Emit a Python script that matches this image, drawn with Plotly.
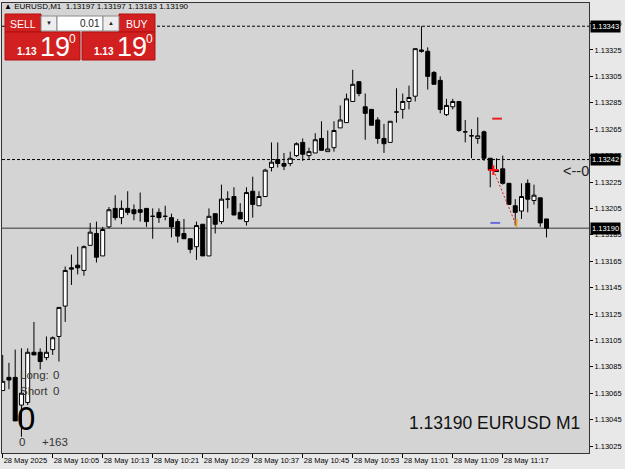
import plotly.graph_objects as go

# ---------------- data (EURUSD M1, 28 May 2025, 09:57 .. 11:24) ----------------
opens = [1.13067, 1.13077, 1.13077, 1.13056, 1.13058, 1.13096, 1.13096, 1.13092, 1.13098, 1.13108,
         1.13131, 1.13160, 1.13162, 1.13158, 1.13177, 1.13186, 1.13169, 1.13191, 1.13205, 1.13198,
         1.13205, 1.13204, 1.13204, 1.13205, 1.13199, 1.13202, 1.13199, 1.13198, 1.13195, 1.13186,
         1.13182, 1.13176, 1.13193, 1.13169, 1.13201, 1.13195, 1.13212, 1.13214, 1.13202, 1.13195,
         1.13218, 1.13207, 1.13214, 1.13236, 1.13242, 1.13239, 1.13239, 1.13245, 1.13255, 1.13245,
         1.13247, 1.13258, 1.13248, 1.13251, 1.13266, 1.13270, 1.13286, 1.13301, 1.13282, 1.13280,
         1.13272, 1.13258, 1.13255, 1.13278, 1.13280, 1.13286, 1.13290, 1.13325, 1.13324, 1.13308,
         1.13302, 1.13276, 1.13282, 1.13286, 1.13263, 1.13260, 1.13258, 1.13263, 1.13243, 1.13234,
         1.13235, 1.13224, 1.13207, 1.13203, 1.13224, 1.13211, 1.13213, 1.13197]
highs = [1.13094, 1.13088, 1.13098, 1.13099, 1.13099, 1.13119, 1.13099, 1.13108, 1.13108, 1.13130,
         1.13161, 1.13170, 1.13176, 1.13177, 1.13194, 1.13195, 1.13191, 1.13206, 1.13215, 1.13211,
         1.13218, 1.13208, 1.13217, 1.13205, 1.13205, 1.13205, 1.13207, 1.13201, 1.13197, 1.13197,
         1.13182, 1.13195, 1.13193, 1.13205, 1.13201, 1.13223, 1.13218, 1.13221, 1.13209, 1.13221,
         1.13229, 1.13218, 1.13235, 1.13255, 1.13255, 1.13247, 1.13248, 1.13255, 1.13258, 1.13251,
         1.13262, 1.13271, 1.13264, 1.13271, 1.13283, 1.13292, 1.13310, 1.13301, 1.13292, 1.13280,
         1.13274, 1.13269, 1.13271, 1.13296, 1.13292, 1.13298, 1.13326, 1.13343, 1.13327, 1.13309,
         1.13305, 1.13288, 1.13288, 1.13286, 1.13272, 1.13265, 1.13274, 1.13264, 1.13243, 1.13243,
         1.13245, 1.13224, 1.13212, 1.13224, 1.13227, 1.13223, 1.13213, 1.13197]
lows = [1.13067, 1.13068, 1.13044, 1.13032, 1.13056, 1.13094, 1.13083, 1.13090, 1.13094, 1.13089,
        1.13119, 1.13147, 1.13155, 1.13154, 1.13177, 1.13164, 1.13169, 1.13190, 1.13196, 1.13193,
        1.13200, 1.13196, 1.13195, 1.13191, 1.13182, 1.13194, 1.13196, 1.13183, 1.13179, 1.13182,
        1.13171, 1.13166, 1.13169, 1.13169, 1.13186, 1.13193, 1.13205, 1.13200, 1.13197, 1.13192,
        1.13198, 1.13207, 1.13214, 1.13233, 1.13236, 1.13234, 1.13237, 1.13244, 1.13241, 1.13242,
        1.13247, 1.13249, 1.13248, 1.13248, 1.13266, 1.13270, 1.13286, 1.13290, 1.13257, 1.13268,
        1.13254, 1.13247, 1.13255, 1.13270, 1.13273, 1.13280, 1.13286, 1.13323, 1.13295, 1.13299,
        1.13277, 1.13275, 1.13280, 1.13263, 1.13255, 1.13243, 1.13254, 1.13241, 1.13221, 1.13233,
        1.13223, 1.13208, 1.13192, 1.13197, 1.13202, 1.13208, 1.13191, 1.13183]
closes = [1.13074, 1.13075, 1.13044, 1.13065, 1.13096, 1.13094, 1.13089, 1.13096, 1.13107, 1.13130,
          1.13158, 1.13159, 1.13160, 1.13176, 1.13187, 1.13168, 1.13189, 1.13204, 1.13198, 1.13205,
          1.13202, 1.13201, 1.13202, 1.13195, 1.13199, 1.13198, 1.13199, 1.13191, 1.13184, 1.13182,
          1.13174, 1.13192, 1.13169, 1.13199, 1.13193, 1.13212, 1.13212, 1.13200, 1.13197, 1.13217,
          1.13208, 1.13214, 1.13234, 1.13240, 1.13239, 1.13237, 1.13243, 1.13254, 1.13246, 1.13248,
          1.13257, 1.13249, 1.13250, 1.13264, 1.13272, 1.13288, 1.13299, 1.13292, 1.13277, 1.13268,
          1.13258, 1.13254, 1.13271, 1.13278, 1.13286, 1.13289, 1.13326, 1.13324, 1.13305, 1.13299,
          1.13280, 1.13283, 1.13286, 1.13264, 1.13263, 1.13260, 1.13260, 1.13243, 1.13234, 1.13233,
          1.13224, 1.13208, 1.13202, 1.13214, 1.13212, 1.13215, 1.13194, 1.13190]
bars = list(range(len(opens)))

tick_bars = [0, 8, 16, 24, 32, 40, 48, 56, 64, 72, 80]
tick_labels = ["28 May 2025", "28 May 10:05", "28 May 10:13", "28 May 10:21", "28 May 10:29",
               "28 May 10:37", "28 May 10:45", "28 May 10:53", "28 May 11:01", "28 May 11:09",
               "28 May 11:17"]
price_ticks = [1.13025, 1.13045, 1.13065, 1.13085, 1.13105, 1.13125, 1.13145, 1.13165, 1.13185,
               1.13205, 1.13225, 1.13245, 1.13265, 1.13285, 1.13305, 1.13325, 1.13345]

day_high = 1.13343
level_mid = 1.13242
bid = 1.13190
symbol = "EURUSD"
timeframe = "M1"
lot = "0.01"

# trade markers
trade_x = [78.5, 82.0]
trade_y = [1.13234, 1.13194]
tp_mark = (79.1, 1.13273)
sl_mark = (78.8, 1.13194)
arrow_mark = (82.2, 1.13194)

# ---------------- geometry helpers (layout pixels -> paper) ----------------
W, H = 625, 469
ML, MR, MT, MB = 2, 36, 3, 16
PW, PH = W - ML - MR, H - MT - MB


def px(x):
    return (x - ML) / PW


def py(y):
    return (H - MB - y) / PH


FONT = "Liberation Sans"
RED = "#d21f1f"

fig = go.Figure()

fig.add_trace(go.Candlestick(
    x=bars, open=opens, high=highs, low=lows, close=closes,
    increasing=dict(fillcolor="white", line=dict(color="black", width=1)),
    decreasing=dict(fillcolor="black", line=dict(color="black", width=1)),
    whiskerwidth=0, hoverinfo="skip", showlegend=False,
))

# trade line and markers
fig.add_trace(go.Scatter(x=trade_x, y=trade_y, mode="lines",
                         line=dict(color="#e02020", width=1, dash="2px,2px"),
                         showlegend=False, hoverinfo="skip"))
fig.add_trace(go.Scatter(x=[trade_x[0]], y=[trade_y[0]], mode="markers",
                         marker=dict(symbol="cross-thin", size=7, line=dict(color="#ff1010", width=2)),
                         showlegend=False, hoverinfo="skip"))
fig.add_trace(go.Scatter(x=[tp_mark[0]], y=[tp_mark[1]], mode="markers",
                         marker=dict(symbol="line-ew", size=7, line=dict(color="#e82020", width=2)),
                         showlegend=False, hoverinfo="skip"))
fig.add_trace(go.Scatter(x=[sl_mark[0]], y=[sl_mark[1]], mode="markers",
                         marker=dict(symbol="line-ew", size=7, line=dict(color="#6b6bdc", width=2)),
                         showlegend=False, hoverinfo="skip"))
fig.add_trace(go.Scatter(x=[arrow_mark[0]], y=[arrow_mark[1]], mode="markers",
                         marker=dict(symbol="line-ns", size=6, line=dict(color="#f0a020", width=2)),
                         showlegend=False, hoverinfo="skip"))

shapes = []
# horizontal price levels
for lv in (day_high, level_mid):
    shapes.append(dict(type="line", xref="paper", yref="y", x0=0, x1=1, y0=lv, y1=lv,
                       line=dict(color="black", width=1, dash="3px,2px"), layer="below"))
shapes.append(dict(type="line", xref="paper", yref="y", x0=0, x1=1, y0=bid, y1=bid,
                   line=dict(color="#6a6a6a", width=1.5), layer="below"))


def rect(x0, y0, x1, y1, fill, line="#8a8a8a"):
    shapes.append(dict(type="rect", xref="paper", yref="paper",
                       x0=px(x0), x1=px(x1), y0=py(y1), y1=py(y0),
                       fillcolor=fill, line=dict(color=line, width=1), layer="above"))


# one-click trading panel
rect(5, 14, 41, 32, RED, "#b01010")
rect(119, 14, 155, 32, RED, "#b01010")
rect(41, 16, 57, 31, "#eeeeee")
rect(57, 16, 103, 31, "white")
rect(103, 16, 119, 31, "#eeeeee")
rect(5, 32, 80, 60, RED, "#b01010")
rect(82, 32, 155, 60, RED, "#b01010")

ann = []


def text(x, y, s, size, color="black", xanchor="left", yanchor="middle", bg=None, pad=0):
    d = dict(xref="paper", yref="paper", x=px(x), y=py(y), text=s, showarrow=False,
             xanchor=xanchor, yanchor=yanchor, font=dict(family=FONT, size=size, color=color),
             borderpad=pad)
    if bg:
        d["bgcolor"] = bg
    ann.append(d)


title = "▲ {},{}\u00a0\u00a0{:.5f} {:.5f} {:.5f} {:.5f}".format(
    symbol, timeframe, opens[-1], highs[-1], lows[-1], closes[-1])
text(3, 7, title, 8)

bid_str = "{:.5f}".format(bid)
text(23, 23.5, "SELL", 10.5, "white", "center")
text(137, 23.5, "BUY", 10.5, "white", "center")
text(49, 23, "▼", 6, "#222", "center")
text(111, 23, "▲", 6, "#222", "center")
text(101, 23.5, lot, 10, "#222", "right")
for off in (0, 77):
    text(16 + off, 51, "<b>" + bid_str[:4] + "</b>", 10, "white", "left")
    text(39 + off, 47, bid_str[4:6], 27, "white", "left")
    text(68 + off, 39, bid_str[6], 12, "white", "left")

text(562, 171, "<--0", 14.5, "#222", "left")

text(19, 375, "Long:", 11.5, "#333")
text(52, 375, "0", 11.5, "#333")
text(19, 391, "Short", 11.5, "#333")
text(52, 391, "0", 11.5, "#333")
text(16, 418, "0", 33, "black")
text(18, 442, "0", 11.5, "#333")
text(41, 442, "+163", 11.5, "#333")

text(581, 423, "{} {} {}".format(bid_str, symbol, timeframe), 17.5, "#111", "right")

# price labels on the axis
for lv in (day_high, level_mid, bid):
    ann.append(dict(xref="paper", yref="y", x=1, y=lv, text="{:.5f}".format(lv), showarrow=False,
                    xanchor="left", yanchor="middle", xshift=1, bgcolor="black", borderpad=1,
                    font=dict(family=FONT, size=7.5, color="white")))

fig.update_layout(
    width=W, height=H,
    margin=dict(l=ML, r=MR, t=MT, b=MB, pad=0, autoexpand=False),
    paper_bgcolor="#e8e8e8",
    plot_bgcolor="#d4d4d4",
    boxgap=0.2, boxgroupgap=0.2,
    shapes=shapes,
    annotations=ann,
    showlegend=False,
    xaxis=dict(
        range=[-0.11, 93.8], rangeslider=dict(visible=False), automargin=False,
        tickmode="array", tickvals=tick_bars, ticktext=tick_labels, tickangle=0,
        ticks="outside", ticklen=4, tickcolor="black", ticklabelposition="outside right",
        tickfont=dict(family=FONT, size=7.5, color="black"),
        showgrid=False, zeroline=False, showline=True, linecolor="#333", mirror=True,
        fixedrange=True,
    ),
    yaxis=dict(
        side="right", range=[1.130197, 1.133606], automargin=False,
        tickmode="array", tickvals=price_ticks, ticktext=["{:.5f}".format(v) for v in price_ticks],
        ticks="outside", ticklen=3, tickcolor="black",
        tickfont=dict(family=FONT, size=7.5, color="black"),
        showgrid=False, zeroline=False, showline=True, linecolor="#333", mirror=True,
        fixedrange=True,
    ),
)

fig.write_html("out.html")
